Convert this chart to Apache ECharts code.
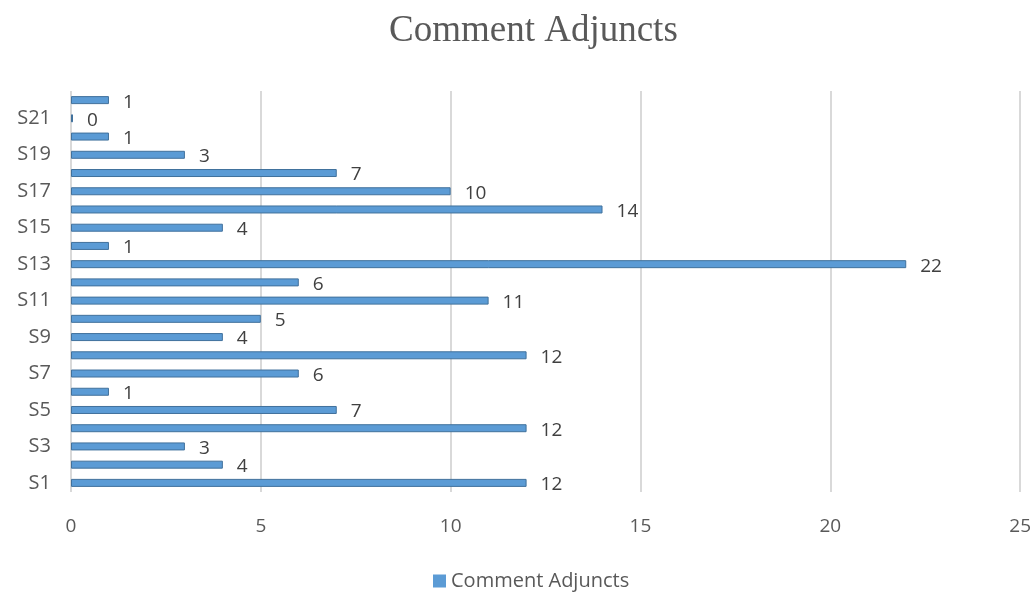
<!DOCTYPE html>
<html>
<head>
<meta charset="utf-8">
<script src="https://cdn.jsdelivr.net/npm/echarts@6/dist/echarts.min.js"></script>
<style>
  html, body { margin: 0; padding: 0; background: #fff; }
  #chart { width: 1034px; height: 592px; }
</style>
</head>
<body>
<div id="chart"></div>
<script>
const categories = ['S1', 'S2', 'S3', 'S4', 'S5', 'S6', 'S7', 'S8', 'S9', 'S10', 'S11',
  'S12', 'S13', 'S14', 'S15', 'S16', 'S17', 'S18', 'S19', 'S20', 'S21', 'S22'];
const values = [12, 4, 3, 12, 7, 1, 6, 12, 4, 5, 11, 6, 22, 1, 4, 14, 10, 7, 3, 1, 0, 1];
const seriesName = 'Comment Adjuncts';

const chart = echarts.init(document.getElementById('chart'));
chart.setOption({
  animation: false,
  title: {
    text: 'Comment Adjuncts',
    left: 384,
    top: 8,
    textStyle: {
      fontFamily: 'Liberation Serif',
      fontWeight: 'normal',
      fontSize: 37,
      color: '#595959'
    }
  },
  legend: {
    top: 566,
    left: 428,
    itemWidth: 13,
    itemHeight: 13,
    itemGap: 6,
    icon: 'rect',
    itemStyle: { borderWidth: 0 },
    textStyle: { fontFamily: 'Open Sans', fontSize: 20, color: '#595959' },
    data: [seriesName]
  },
  grid: {
    left: 71,
    right: 12,
    top: 91,
    bottom: 100
  },
  xAxis: {
    type: 'value',
    min: 0,
    max: 25,
    interval: 5,
    axisLine: { show: false },
    axisTick: { show: false },
    axisLabel: {
      fontFamily: 'Open Sans',
      fontSize: 19,
      color: '#595959',
      margin: 25
    },
    splitLine: { lineStyle: { color: '#d9d9d9', width: 2 } }
  },
  yAxis: {
    type: 'category',
    data: categories,
    axisLine: { show: false },
    axisTick: { show: false },
    axisLabel: {
      interval: 1,
      fontFamily: 'Open Sans',
      fontSize: 20,
      color: '#595959',
      margin: 20
    }
  },
  series: [{
    name: seriesName,
    type: 'bar',
    data: values,
    barWidth: 8,
    barMinHeight: 2,
    itemStyle: {
      color: '#5B9BD5',
      borderColor: '#41719C',
      borderWidth: 1
    },
    label: {
      show: true,
      position: 'right',
      distance: 14,
      offset: [0, 2],
      fontFamily: 'Open Sans',
      fontSize: 19,
      color: '#404040'
    }
  }]
});
</script>
</body>
</html>
